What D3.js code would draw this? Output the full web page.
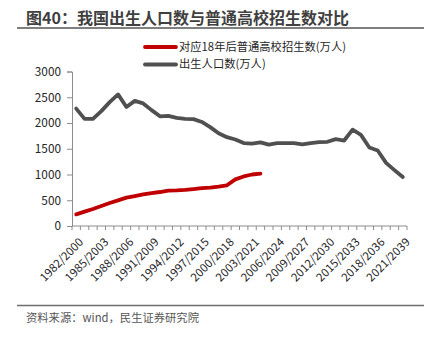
<!DOCTYPE html>
<html><head><meta charset="utf-8">
<script src="https://cdn.jsdelivr.net/npm/d3@7"></script>
<style>
html,body{margin:0;padding:0;background:#fff;}
svg{display:block;font-family:"Noto Sans CJK SC","Noto Sans",sans-serif;}
</style></head>
<body>
<script>
// ---- data ----
const birthYears = d3.range(1982, 2022);
const categories = birthYears.map(y => `${y}/${y + 18}`);
const births = [2280,2080,2080,2230,2405,2555,2310,2430,2380,2250,
                2130,2140,2100,2080,2075,2020,1920,1800,1725,1680,
                1610,1600,1625,1580,1610,1610,1610,1585,1610,1630,
                1635,1687,1660,1870,1770,1525,1467,1225,1085,950];
const enrollment = [226,278,330,388,446,498,550,582,614,640,
                    660,686,690,700,718,737,747,763,790,905,
                    962,1000,1015];
const yTicks = [0,500,1000,1500,2000,2500,3000];
const labelCats = categories.filter((c,i) => i % 3 === 0);
const titleText = "图40：我国出生人口数与普通高校招生数对比";
const sourceText = "资料来源：wind，民生证券研究院";
const legendItems = [
  {name:"对应18年后普通高校招生数(万人)", color:"#C00000"},
  {name:"出生人口数(万人)", color:"#505050"}
];

const W = 440, H = 338;
const svg = d3.select("body").append("svg").attr("width", W).attr("height", H);

// title
svg.append("text").attr("x", 26).attr("y", 24)
  .attr("font-size", 16).attr("font-weight", "bold").attr("fill", "#404040")
  .text(titleText);
svg.append("line").attr("x1", 17).attr("x2", 424).attr("y1", 28).attr("y2", 28)
  .attr("stroke", "#555").attr("stroke-width", 1.5);

// scales
const x = d3.scaleBand().domain(categories).range([72, 407]).padding(0);
const y = d3.scaleLinear().domain([0, 3000]).range([226, 71.5]);

// y axis
const yAxis = svg.append("g").attr("transform", "translate(72,0)")
  .call(d3.axisLeft(y).tickValues(yTicks).tickFormat(d3.format("d")).tickSize(5).tickPadding(6));
yAxis.select(".domain").attr("stroke", "#8c8c8c");
yAxis.selectAll(".tick line").attr("stroke", "#8c8c8c");
yAxis.selectAll("text").attr("font-size", 11.8).attr("fill", "#262626")
  .attr("font-family", "'Noto Sans CJK SC',sans-serif");

// x axis
const xg = svg.append("g").attr("transform", "translate(0,226)");
xg.append("line").attr("x1", 72).attr("x2", 407).attr("stroke", "#8c8c8c");
xg.selectAll("line.tk").data(d3.range(categories.length + 1)).join("line")
  .attr("class", "tk")
  .attr("x1", i => 72 + i * x.bandwidth()).attr("x2", i => 72 + i * x.bandwidth())
  .attr("y1", 0).attr("y2", 4).attr("stroke", "#8c8c8c");
xg.selectAll("text").data(labelCats).join("text")
  .attr("transform", d => `translate(${x(d) + x.bandwidth()/2 + 5},${14}) rotate(-45)`)
  .attr("text-anchor", "end").attr("dy", "0.35em")
  .attr("font-size", 11.5).attr("fill", "#262626")
  .text(d => d);

// lines
const line = d3.line().x((d,i) => x(categories[i]) + x.bandwidth()/2).y(d => y(d));
svg.append("path").datum(births).attr("d", line)
  .attr("fill", "none").attr("stroke", legendItems[1].color)
  .attr("stroke-width", 3.8).attr("stroke-linejoin", "round").attr("stroke-linecap", "round");
svg.append("path").datum(enrollment).attr("d", line)
  .attr("fill", "none").attr("stroke", legendItems[0].color)
  .attr("stroke-width", 3.8).attr("stroke-linejoin", "round").attr("stroke-linecap", "round");

// legend
const lg = svg.append("g");
legendItems.forEach((it, i) => {
  const yy = 47 + i * 17.5;
  lg.append("line").attr("x1", 145).attr("x2", 176).attr("y1", yy).attr("y2", yy)
    .attr("stroke", it.color).attr("stroke-width", 3.8).attr("stroke-linecap", "round");
  lg.append("text").attr("x", 179).attr("y", yy).attr("dy", "0.35em")
    .attr("font-size", 11.3).attr("fill", "#262626").text(it.name);
});

// footer
svg.append("line").attr("x1", 17).attr("x2", 424).attr("y1", 305.5).attr("y2", 305.5)
  .attr("stroke", "#6e6e6e").attr("stroke-width", 1.5);
svg.append("text").attr("x", 26).attr("y", 322)
  .attr("font-size", 11.3).attr("fill", "#555").text(sourceText);
</script>
</body></html>
